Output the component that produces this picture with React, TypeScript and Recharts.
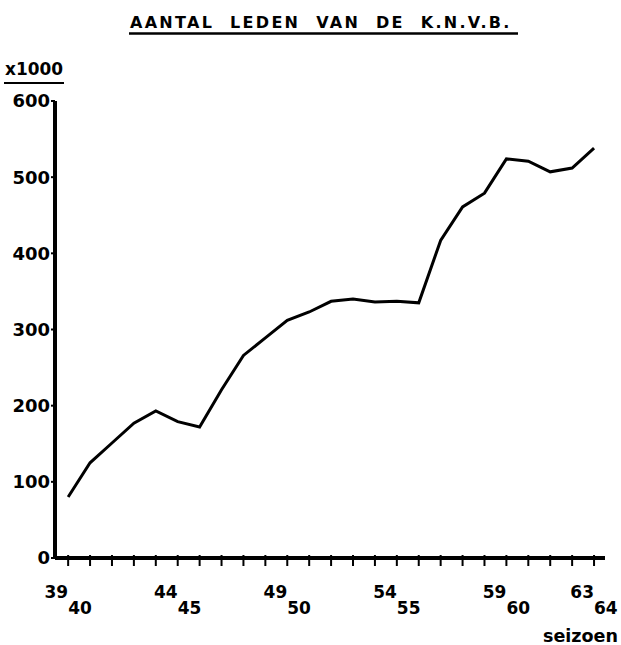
import React from "react";
import { LineChart, Line, XAxis, YAxis, Customized } from "recharts";

const seasons = [
  "39/40", "40/41", "41/42", "42/43", "43/44", "44/45", "45/46", "46/47", "47/48",
  "48/49", "49/50", "50/51", "51/52", "52/53", "53/54", "54/55", "55/56", "56/57",
  "57/58", "58/59", "59/60", "60/61", "61/62", "62/63", "63/64",
];
// members x1000
const members = [
  80, 125, 151, 177, 193, 179, 172, 221, 266, 289, 312, 323, 337, 340, 336, 337,
  335, 417, 461, 479, 524, 521, 507, 512, 538,
];
const labelledSeasons = [0, 5, 10, 15, 20, 24];
const yTicks = [0, 100, 200, 300, 400, 500, 600];
const title = "AANTAL LEDEN VAN DE K.N.V.B.";
const unitLabel = "x1000";
const xAxisLabel = "seizoen";

const data = seasons.map((s, i) => ({ idx: i, season: s, value: members[i] }));
const FONT = "'DejaVu Sans', sans-serif";
const TICK = 6;

const XTick = (props: any) => {
  const { x, y, payload } = props;
  const i = payload.value;
  const labelled = labelledSeasons.includes(i);
  const [a, b] = seasons[i].split("/");
  return (
    <g>
      <rect x={x - 1} y={y - 9} width={2} height={11} fill="#000" />
      {labelled && (
        <>
          <text x={x} y={y + 34} textAnchor="end" fontFamily={FONT} fontWeight="bold" fontSize={17} fill="#000">
            {a}
          </text>
          <text x={x} y={y + 50} textAnchor="start" fontFamily={FONT} fontWeight="bold" fontSize={17} fill="#000">
            {b}
          </text>
        </>
      )}
    </g>
  );
};

const Decor = () => (
  <g>
    <text
      x={130}
      y={28}
      fontFamily={FONT}
      fontWeight="bold"
      fontSize={16}
      fill="#000"
      style={{ letterSpacing: "2.3px", wordSpacing: "8px" }}
    >
      {title}
    </text>
    <line x1={129} x2={518} y1={33.5} y2={33.5} stroke="#000" strokeWidth={2.5} />
    <text x={5} y={75} fontFamily={FONT} fontWeight="bold" fontSize={17} fill="#000" textLength={58} lengthAdjust="spacingAndGlyphs">
      {unitLabel}
    </text>
    <line x1={4} x2={64} y1={83} y2={83} stroke="#000" strokeWidth={2} />
    <text x={543} y={642} fontFamily={FONT} fontWeight="bold" fontSize={17} fill="#000" textLength={75} lengthAdjust="spacingAndGlyphs">
      {xAxisLabel}
    </text>
  </g>
);

export default function App() {
  return (
    <div style={{ position: "absolute", left: 0, top: 0, background: "#fff" }}>
      <LineChart
        width={621}
        height={645}
        data={data}
        margin={{ top: 101, right: 16, bottom: 27, left: 0 }}
      >
        <XAxis
          dataKey="idx"
          type="number"
          domain={[-0.6, 24.5]}
          ticks={seasons.map((_, i) => i)}
          interval={0}
          height={60}
          axisLine={{ stroke: "#000", strokeWidth: 4 }}
          tickLine={false}
          tickSize={TICK}
          tickMargin={0}
          tick={<XTick />}
          allowDataOverflow
        />
        <YAxis
          type="number"
          domain={[0, 600]}
          ticks={yTicks}
          interval={0}
          width={55}
          axisLine={{ stroke: "#000", strokeWidth: 4 }}
          tickLine={{ stroke: "#000", strokeWidth: 2 }}
          tickSize={4}
          tickMargin={1}
          tick={{ fill: "#000", fontFamily: FONT, fontWeight: "bold", fontSize: 18 }}
        />
        <Line
          type="linear"
          dataKey="value"
          stroke="#000"
          strokeWidth={3}
          dot={false}
          isAnimationActive={false}
        />
        <Customized component={Decor} />
      </LineChart>
    </div>
  );
}
